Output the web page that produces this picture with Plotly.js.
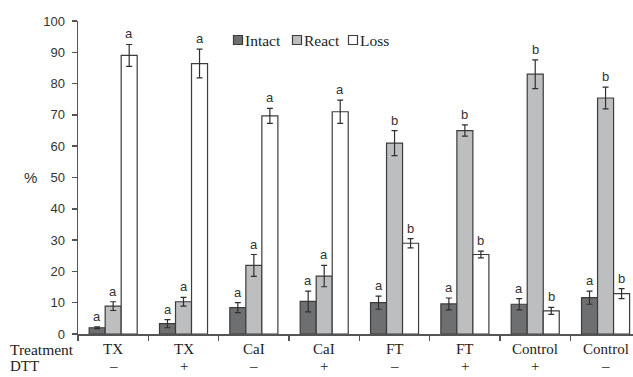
<!DOCTYPE html>
<html>
<head>
<meta charset="utf-8">
<script src="https://cdn.plot.ly/plotly-3.0.1.min.js"></script>
<style>html,body{margin:0;padding:0;background:#fff;}#chart{width:633px;height:377px;}</style>
</head>
<body>
<div id="chart"></div>
<script>
// ---- data ----
const treatments = ["TX", "TX", "CaI", "CaI", "FT", "FT", "Control", "Control"];
const dtt = ["\u2013", "+", "\u2013", "+", "\u2013", "+", "+", "\u2013"];
const intact = [2.0, 3.3, 8.4, 10.4, 10.0, 9.6, 9.5, 11.6];
const intactErr = [0.3, 1.3, 1.6, 3.3, 2.1, 1.9, 1.8, 2.1];
const react = [8.9, 10.3, 21.9, 18.5, 61.0, 65.0, 83.0, 75.4];
const reactErr = [1.4, 1.4, 3.5, 3.4, 4.0, 1.8, 4.6, 3.5];
const loss = [89.0, 86.4, 69.7, 71.0, 29.0, 25.4, 7.4, 12.9];
const lossErr = [3.5, 4.6, 2.4, 3.7, 1.5, 1.1, 1.1, 1.6];
const intactLetters = ["a", "a", "a", "a", "a", "a", "a", "a"];
const reactLetters = ["a", "a", "a", "a", "b", "b", "b", "b"];
const lossLetters = ["a", "a", "a", "a", "b", "b", "b", "b"];
const seriesNames = ["Intact", "React", "Loss"];

// ---- build ----
const xs = treatments.map((_, i) => i);
const colors = ["#6e6f71", "#bdbec0", "#ffffff"];
const lineColor = "#3c3c3c";
const vals = [intact, react, loss];
const errs = [intactErr, reactErr, lossErr];
const letters = [intactLetters, reactLetters, lossLetters];
const bargap = 0.317;
const bw = (1 - bargap) / 3;
const serif = "Liberation Serif, Times New Roman, serif";
const sans = "Liberation Sans, Arial, sans-serif";

const traces = vals.map((v, k) => ({
  type: "bar",
  name: seriesNames[k],
  x: xs,
  y: v,
  marker: { color: colors[k], line: { color: lineColor, width: 1.2 } },
  error_y: { type: "data", array: errs[k], visible: true, color: "#2f2f2f", thickness: 1.2, width: 3 },
  hoverinfo: "skip",
  showlegend: false
}));

const annotations = [];
vals.forEach((v, k) => {
  v.forEach((val, i) => {
    annotations.push({
      x: i + (k - 1) * bw, xref: "x",
      y: val + errs[k][i], yref: "y",
      text: letters[k][i], showarrow: false,
      yanchor: "bottom", yshift: 1,
      font: { family: sans, size: 13, color: "#333" }
    });
  });
});
const row1Shift = -6, row2Shift = -23;
treatments.forEach((t, i) => {
  annotations.push({
    x: i, xref: "x", y: 0, yref: "y", yanchor: "top", yshift: row1Shift, borderpad: 0,
    text: t, showarrow: false,
    font: { family: serif, size: 15, color: "#222" }
  });
  annotations.push({
    x: i, xref: "x", y: 0, yref: "y", yanchor: "top", yshift: row2Shift, borderpad: 0,
    text: dtt[i], showarrow: false,
    font: { family: serif, size: 15, color: "#222" }
  });
});
annotations.push({
  x: -69 / 555, xref: "paper", xanchor: "left", y: 0, yref: "y", yanchor: "top", yshift: row1Shift, borderpad: 0,
  text: "Treatment", showarrow: false,
  font: { family: serif, size: 15.5, color: "#222" }
});
annotations.push({
  x: -69 / 555, xref: "paper", xanchor: "left", y: 0, yref: "y", yanchor: "top", yshift: row2Shift, borderpad: 0,
  text: "DTT", showarrow: false,
  font: { family: serif, size: 15, color: "#222" }
});
annotations.push({
  x: -48 / 555, xref: "paper", xanchor: "center", y: 50, yref: "y", yanchor: "middle",
  text: "%", showarrow: false,
  font: { family: sans, size: 15, color: "#333" }
});

// legend (keys + labels)
const legendKeyX = [238, 297, 353].map(p => (p - 78) / 555);
const legendY = (334 - 40) / 313;
const shapes = [];
seriesNames.forEach((n, k) => {
  shapes.push({
    type: "rect", xref: "paper", yref: "paper",
    xsizemode: "pixel", ysizemode: "pixel",
    xanchor: legendKeyX[k], yanchor: legendY,
    x0: -4.5, x1: 4.5, y0: -4.5, y1: 4.5,
    fillcolor: colors[k], line: { color: lineColor, width: 1.2 }
  });
  annotations.push({
    x: legendKeyX[k], xref: "paper", xanchor: "left", xshift: 5,
    y: legendY, yref: "paper", yanchor: "middle",
    text: n, showarrow: false,
    font: { family: serif, size: 15.5, color: "#222" }
  });
});

const boundaries = [];
for (let i = 0; i <= treatments.length; i++) boundaries.push(i - 0.5);

const layout = {
  width: 633, height: 377,
  margin: { l: 78, r: 0, t: 21, b: 43 },
  paper_bgcolor: "#fff", plot_bgcolor: "#fff",
  barmode: "group", bargap: bargap, bargroupgap: 0,
  showlegend: false,
  xaxis: {
    range: [-0.5, 7.39], showgrid: false, zeroline: false,
    showline: true, linecolor: "#555", linewidth: 1.5,
    tickmode: "array", tickvals: boundaries, ticktext: boundaries.map(() => ""),
    ticks: "outside", ticklen: 5, tickcolor: "#555", tickwidth: 1.5,
    showticklabels: false, fixedrange: true
  },
  yaxis: {
    range: [0, 100], showgrid: false, zeroline: false,
    showline: true, linecolor: "#555", linewidth: 1.5,
    tickmode: "linear", tick0: 0, dtick: 10,
    ticks: "outside", ticklen: 5, tickcolor: "#555", tickwidth: 1.5,
    tickfont: { family: sans, size: 13, color: "#333" },
    ticklabelstandoff: 4, fixedrange: true
  },
  shapes: shapes,
  annotations: annotations
};

Plotly.newPlot("chart", traces, layout, { displayModeBar: false, staticPlot: true });
</script>
</body>
</html>
